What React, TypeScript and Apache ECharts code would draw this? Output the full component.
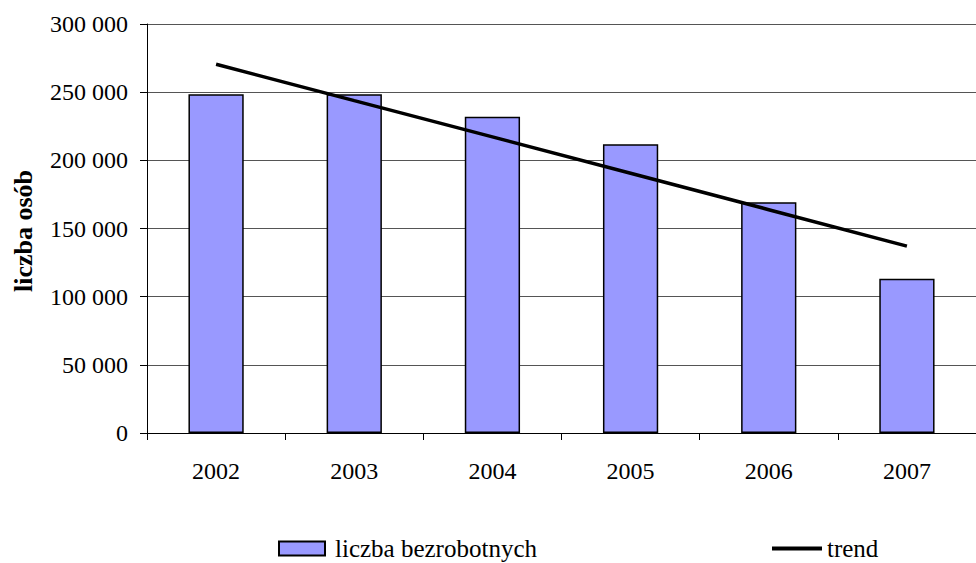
import React, { useEffect, useRef } from "react";
import * as echarts from "echarts";

const years = ["2002", "2003", "2004", "2005", "2006", "2007"];
const unemployed = [248400, 248400, 232000, 211800, 169200, 113200];
const trend = [270500, 243800, 217200, 190500, 163800, 137100];
const yTicks = { min: 0, max: 300000, interval: 50000 };

const SERIF = "Liberation Serif";

function fmt(v: number): string {
  return String(Math.round(v)).replace(/\B(?=(\d{3})+(?!\d))/g, " ");
}

export default function App() {
  const ref = useRef<HTMLDivElement>(null);
  useEffect(() => {
    if (!ref.current) return;
    const chart = echarts.init(ref.current, undefined, { renderer: "svg" });
    chart.setOption({
      animation: false,
      backgroundColor: "#ffffff",
      grid: { left: 147, top: 24, width: 842, height: 409, containLabel: false },
      xAxis: {
        type: "category",
        data: years,
        boundaryGap: true,
        axisLine: { lineStyle: { color: "#000", width: 1 } },
        axisTick: { show: true, length: 7, lineStyle: { color: "#000" } },
        axisLabel: { fontFamily: SERIF, fontSize: 24, color: "#000", margin: 26 },
        splitLine: { show: false },
      },
      yAxis: {
        type: "value",
        min: yTicks.min,
        max: yTicks.max,
        interval: yTicks.interval,
        axisLine: { show: true, lineStyle: { color: "#000", width: 1 } },
        axisTick: { show: true, length: 7, lineStyle: { color: "#000" } },
        axisLabel: {
          fontFamily: SERIF,
          fontSize: 24,
          color: "#000",
          margin: 19,
          formatter: (v: number) => fmt(v),
        },
        splitLine: { show: true, lineStyle: { color: "#555", width: 1 } },
      },
      legend: [
        {
          data: [
            {
              name: "liczba bezrobotnych",
              icon: "rect",
              itemStyle: { color: "#9999FF", borderColor: "#000", borderWidth: 2 },
            },
          ],
          left: 278,
          top: 536,
          padding: 0,
          itemWidth: 46,
          itemHeight: 14,
          itemGap: 6,
          textStyle: { fontFamily: SERIF, fontSize: 25, lineHeight: 24, color: "#000", padding: [0, 0, 0, 5] },
          selectedMode: false,
        },
        {
          data: [{ name: "trend", icon: "rect" }],
          left: 772,
          top: 536,
          padding: 0,
          itemWidth: 50,
          itemHeight: 4,
          itemStyle: { color: "#000", borderWidth: 0 },
          textStyle: { fontFamily: SERIF, fontSize: 25, lineHeight: 24, color: "#000", padding: [0, 0, 0, 0] },
          selectedMode: false,
        },
      ],
      graphic: [
        {
          type: "text",
          x: 23,
          y: 231,
          rotation: Math.PI / 2,
          style: {
            text: "liczba osób",
            fontFamily: SERIF,
            fontSize: 26,
            fontWeight: "bold",
            fill: "#000",
            textAlign: "center",
            textVerticalAlign: "middle",
          },
        },
      ],
      series: [
        {
          name: "liczba bezrobotnych",
          type: "bar",
          data: unemployed,
          barWidth: "40%",
          itemStyle: { color: "#9999FF", borderColor: "#000", borderWidth: 1.5 },
        },
        {
          name: "trend",
          type: "line",
          data: trend,
          showSymbol: false,
          symbol: "none",
          lineStyle: { color: "#000", width: 3.5 },
          itemStyle: { color: "#000" },
        },
      ],
    });
    return () => chart.dispose();
  }, []);
  return (
    <div
      ref={ref}
      style={{ position: "absolute", left: 0, top: 0, width: 976, height: 563, background: "#fff" }}
    />
  );
}
